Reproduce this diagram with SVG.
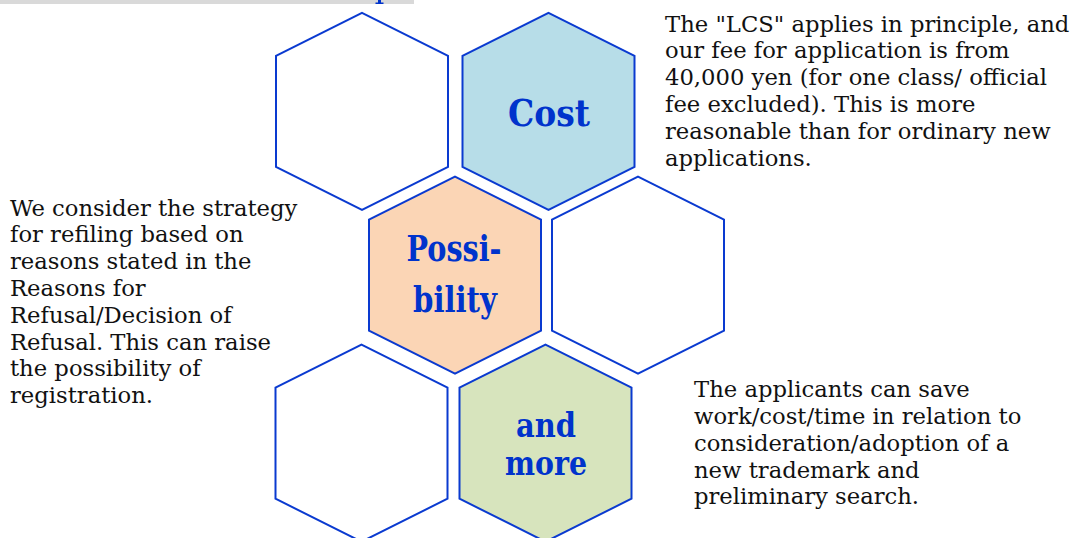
<svg xmlns="http://www.w3.org/2000/svg" width="1076" height="538" viewBox="0 0 1076 538">
<defs>
<style>
.hex{stroke:#0a3ad0;stroke-width:2;stroke-linejoin:miter}
.lbl{font-family:"DejaVu Serif","Liberation Serif",serif;font-weight:bold;fill:#0033cc;text-anchor:middle}
.body{font-family:"DejaVu Serif","Liberation Serif",serif;font-size:22.7px;fill:#111111}
</style>
<polygon id="hx" points="0,-98.5 86,-55.5 86,55.5 0,98.5 -86,55.5 -86,-55.5"/>
</defs>
<rect x="0" y="0" width="414" height="4" fill="#d9d9d9"/>
<rect x="378" y="0" width="3" height="3.5" fill="#0033cc"/>
<rect x="375.5" y="2.5" width="8" height="1.5" fill="#0033cc"/>
<g id="hex-top-left"><use href="#hx" x="362" y="111.3" class="hex" fill="#ffffff"/></g>
<g id="hex-cost"><use href="#hx" x="548.5" y="111.3" class="hex" fill="#b7dde8"/><text class="lbl" x="549" y="126" font-size="38" textLength="82" lengthAdjust="spacingAndGlyphs">Cost</text></g>
<g id="hex-possibility"><use href="#hx" x="455" y="275.2" class="hex" fill="#fbd5b5"/><text class="lbl" x="454" y="261" font-size="35" textLength="95" lengthAdjust="spacingAndGlyphs">Possi-</text><text class="lbl" x="455" y="312" font-size="35" textLength="84" lengthAdjust="spacingAndGlyphs">bility</text></g>
<g id="hex-mid-right"><use href="#hx" x="638" y="275.2" class="hex" fill="#ffffff"/></g>
<g id="hex-bottom-left"><use href="#hx" x="361.5" y="443.2" class="hex" fill="#ffffff"/></g>
<g id="hex-and-more"><use href="#hx" x="545.5" y="443.2" class="hex" fill="#d7e4bd"/><text class="lbl" x="546" y="437" font-size="34" textLength="60" lengthAdjust="spacingAndGlyphs">and</text><text class="lbl" x="546" y="475" font-size="34" textLength="82" lengthAdjust="spacingAndGlyphs">more</text></g>
<g id="connectors"></g>
<g id="text-cost">
<text class="body" x="665" y="31.5">The "LCS" applies in principle, and</text>
<text class="body" x="665" y="58.3">our fee for application is from</text>
<text class="body" x="665" y="85.1">40,000 yen (for one class/ official</text>
<text class="body" x="665" y="111.9">fee excluded). This is more</text>
<text class="body" x="665" y="138.7">reasonable than for ordinary new</text>
<text class="body" x="665" y="165.5">applications.</text>
</g>
<g id="text-possibility">
<text class="body" x="10" y="215.5">We consider the strategy</text>
<text class="body" x="10" y="242.3">for refiling based on</text>
<text class="body" x="10" y="269.1">reasons stated in the</text>
<text class="body" x="10" y="295.9">Reasons for</text>
<text class="body" x="10" y="322.7">Refusal/Decision of</text>
<text class="body" x="10" y="349.5">Refusal. This can raise</text>
<text class="body" x="10" y="376.3">the possibility of</text>
<text class="body" x="10" y="403.1">registration.</text>
</g>
<g id="text-more">
<text class="body" x="694" y="397.2">The applicants can save</text>
<text class="body" x="694" y="424">work/cost/time in relation to</text>
<text class="body" x="694" y="450.8">consideration/adoption of a</text>
<text class="body" x="694" y="477.6">new trademark and</text>
<text class="body" x="694" y="504.4">preliminary search.</text>
</g>
</svg>
